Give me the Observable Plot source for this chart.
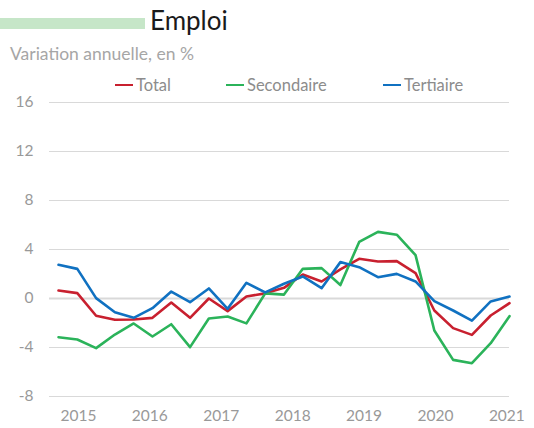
<!DOCTYPE html>
<html>
<head>
<meta charset="utf-8">
<script src="https://cdn.jsdelivr.net/npm/d3@7"></script>
<script src="https://cdn.jsdelivr.net/npm/@observablehq/plot@0.6"></script>
<style>
  html, body { margin: 0; padding: 0; background: #fff; }
  body { width: 534px; height: 428px; position: relative; overflow: hidden; font-family: Lato, "Open Sans", sans-serif; }
  #bar { position: absolute; left: 0; top: 18px; width: 145px; height: 11px; background: #c6e6c8; }
  #title { position: absolute; left: 150px; top: 4px; font-size: 26px; color: #1a1a1a; font-family: Lato, sans-serif; }
  #subtitle { position: absolute; left: 10px; top: 43px; font-size: 17.5px; color: #a6a6a6; }
  .leg { position: absolute; top: 75px; font-size: 16.5px; color: #8c8c8c; display: flex; align-items: center; }
  .leg span.sw { display: inline-block; width: 18px; height: 2.5px; margin-right: 3px; }
  #chart { position: absolute; left: 0; top: 95px; }
</style>
</head>
<body>
<div id="bar"></div>
<div id="title">Emploi</div>
<div id="subtitle">Variation annuelle, en %</div>
<div id="legend"></div>
<div id="chart"></div>
<script>
// Quarters 2014T4 .. 2020T4
const quarters = ["2014T4","2015T1","2015T2","2015T3","2015T4","2016T1","2016T2","2016T3","2016T4",
  "2017T1","2017T2","2017T3","2017T4","2018T1","2018T2","2018T3","2018T4","2019T1","2019T2","2019T3","2019T4",
  "2020T1","2020T2","2020T3","2020T4"];
const total = [0.65, 0.44, -1.41, -1.74, -1.71, -1.58, -0.33, -1.58, 0.0, -1.03, 0.16, 0.42, 0.87, 1.96, 1.39, 2.37, 3.24, 3.02, 3.05, 2.07, -0.98, -2.42, -2.97, -1.39, -0.38];
const secondaire = [-3.16, -3.35, -4.05, -2.94, -2.04, -3.1, -2.1, -3.97, -1.63, -1.47, -2.03, 0.42, 0.32, 2.42, 2.48, 1.1, 4.62, 5.44, 5.21, 3.54, -2.61, -5.01, -5.28, -3.65, -1.44];
const tertiaire = [2.75, 2.42, 0.03, -1.12, -1.58, -0.79, 0.57, -0.3, 0.82, -0.84, 1.28, 0.5, 1.2, 1.8, 0.84, 2.97, 2.56, 1.74, 2.01, 1.39, -0.22, -0.98, -1.8, -0.24, 0.16];
const seriesNames = ["Total", "Secondaire", "Tertiaire"];
const seriesColors = ["#c8202f", "#2bb35a", "#1071c1"];
const yTicks = [-8, -4, 0, 4, 8, 12, 16];
const yearLabels = ["2015", "2016", "2017", "2018", "2019", "2020", "2021"];

const seriesValues = [total, secondaire, tertiaire];
const data = [];
seriesNames.forEach((name, s) => {
  seriesValues[s].forEach((v, i) => data.push({series: name, i, q: quarters[i], value: v}));
});
// year labels sit roughly every 3.8 quarters starting just after the first point
const yearTickPos = yearLabels.map((_, k) => 1.06 + k * 3.8);

// legend
const legendLeft = [115, 226, 383];
const legend = document.getElementById("legend");
seriesNames.forEach((n, k) => {
  const d = document.createElement("div");
  d.className = "leg";
  d.style.left = legendLeft[k] + "px";
  d.innerHTML = `<span class="sw" style="background:${seriesColors[k]}"></span>${n}`;
  legend.appendChild(d);
});

const chart = Plot.plot({
  width: 534,
  height: 333,
  marginLeft: 49,
  marginRight: 25,
  marginTop: 7,
  marginBottom: 32,
  style: { fontFamily: "Lato, 'Open Sans', sans-serif", fontSize: "15.5px", color: "#999", background: "#fff", overflow: "visible" },
  x: { domain: [-0.48, 24], axis: null },
  y: { domain: [-8, 16], axis: null },
  color: { domain: seriesNames, range: seriesColors },
  marks: [
    Plot.ruleY(yTicks, { stroke: "#d9d9d9", strokeWidth: d => d === 0 ? 2 : 1.2 }),
    Plot.axisY(yTicks, { tickSize: 0, tickPadding: 16, textAnchor: "end", fill: "#999", fontSize: 15.5, label: null, tickFormat: d => String(d) }),
    Plot.axisX(yearTickPos, { tickSize: 0, tickPadding: 13, tickFormat: (d, k) => yearLabels[k], fill: "#999", fontSize: 15.5, label: null }),
    Plot.line(data, { x: "i", y: "value", z: "series", stroke: "series", strokeWidth: 2.6, strokeLinejoin: "round" })
  ]
});
document.getElementById("chart").appendChild(chart);
</script>
</body>
</html>
